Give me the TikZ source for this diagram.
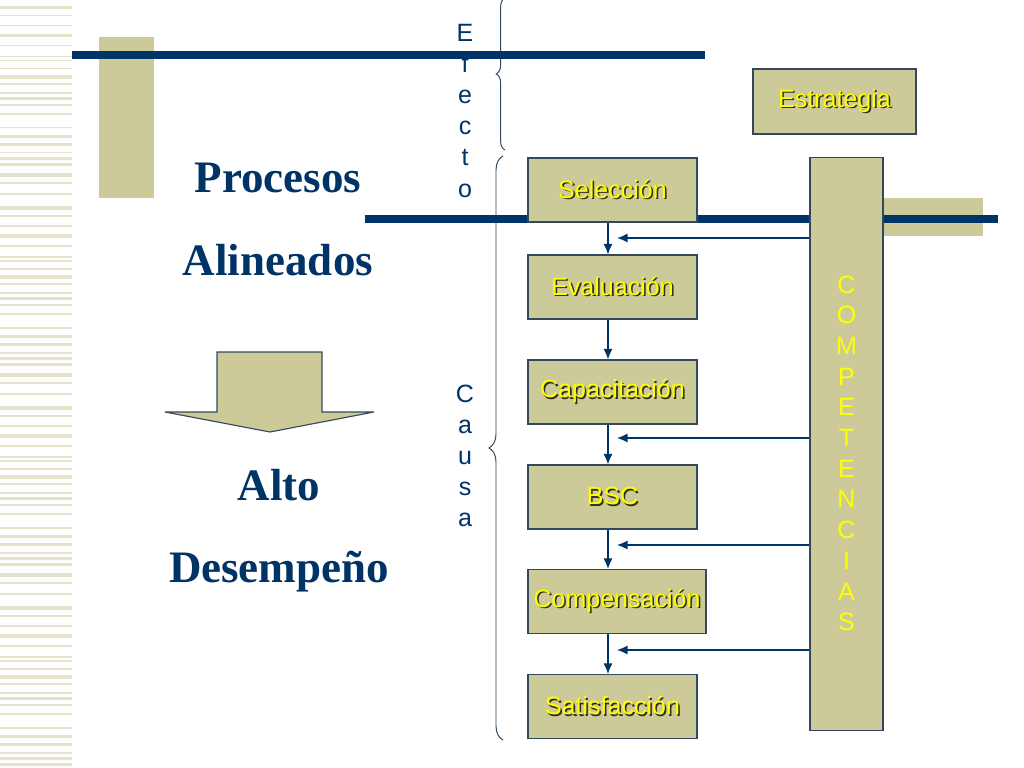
\documentclass[tikz,border=0pt]{standalone}
\usepackage{fontspec}
\setmainfont{Liberation Serif}
\setsansfont{Liberation Sans}
\usetikzlibrary{arrows.meta,decorations.pathreplacing}
\definecolor{caqui}{HTML}{CCCA99}
\definecolor{franja}{HTML}{E6E3CB}
\definecolor{marino}{HTML}{003366}
\definecolor{borde}{HTML}{34495E}
\definecolor{amarillo}{HTML}{FFFF00}
\definecolor{sombra}{HTML}{2E2E10}
\newcommand{\sombreado}[1]{\makebox[0pt][l]{\kern1.1pt\raisebox{-1.1pt}{\color{sombra}#1}}{\color{amarillo}#1}}
\begin{document}
\begin{tikzpicture}[x=0.025cm,y=-0.025cm,
  caja/.style={draw=borde,fill=caqui,line width=0.8pt,minimum width=4.225cm,minimum height=1.6cm,inner sep=0pt,font=\sffamily\fontsize{17.8}{20}\selectfont},
  letra/.style={anchor=base,text=marino,inner sep=0pt,font=\sffamily\fontsize{17.8}{20}\selectfont},
  titulo/.style={anchor=base,text=marino,inner sep=0pt,font=\bfseries\fontsize{32}{36}\selectfont},
  flecha/.style={draw=marino,line width=1pt,-{Latex[length=7.5pt,width=6.5pt]}},
  llave/.style={draw=borde,line width=0.7pt,decorate}]
\useasboundingbox (0,0) rectangle (1024,768);
% franjas del margen
\foreach \y in {0,200,400,600}
  \foreach \d/\h in {6/3.5,15/1.5,25/1.5,34/3.5,45/1.5,56/1.5,60/1.5,68/1.5,75/4,83/2,92/2,97/3,104/2,113/2,127/1.5,135/3,143/3,152/1.5,157/3,163/3,173/4,182/2,193/2}
    \fill[franja] (0,{\y+\d}) rectangle (72,{\y+\d+\h});
\fill[caqui] (99,37) rectangle (154,198);
\fill[caqui] (883,198) rectangle (983,236);
% llaves
\draw[llave,decoration={brace,amplitude=0.22cm}] (505,150) -- (505,-2);
\draw[llave,decoration={brace,amplitude=0.35cm}] (503,740) -- (503,156);
\foreach \l [count=\i] in {E,f,e,c,t,o}
  \node[letra] (ef\i) at (465,{42+31*(\i-1)}) {\l};
\foreach \l [count=\i] in {C,a,u,s,a}
  \node[letra] (ca\i) at (465,{402+31.2*(\i-1)}) {\l};
% lineas
\fill[marino] (72,51) rectangle (705,59);
\fill[marino] (365,215) rectangle (998,223);
% cajas
\node[caja] (seleccion) at (612.5,190) {\sombreado{Selección}};
\node[caja] (evaluacion) at (612.5,287) {\sombreado{Evaluación}};
\node[caja] (capacitacion) at (612.5,392) {\sombreado{Capacitación}};
\node[caja] (bsc) at (612.5,497) {\sombreado{BSC}};
\node[caja,minimum width=4.45cm] (compensacion) at (617,601.5) {\sombreado{Compensación}};
\node[caja] (satisfaccion) at (612.5,706.5) {\sombreado{Satisfacción}};
\node[caja,minimum width=4.075cm,minimum height=1.625cm] (estrategia) at (834.5,101.5) {\sombreado{Estrategia}};
\node[caja,minimum width=1.825cm,minimum height=14.3cm] (competencias) at (846.5,444) {};
\foreach \l [count=\i] in {C,O,M,P,E,T,E,N,C,I,A,S}
  \node[letra,text=amarillo] (co\i) at (846.5,{293+30.7*(\i-1)}) {\l};
% flechas
\coordinate (eje) at (608,0);
\draw[flecha] (seleccion.south -| eje) -- (evaluacion.north -| eje);
\draw[flecha] (evaluacion.south -| eje) -- (capacitacion.north -| eje);
\draw[flecha] (capacitacion.south -| eje) -- (bsc.north -| eje);
\draw[flecha] (bsc.south -| eje) -- (compensacion.north -| eje);
\draw[flecha] (compensacion.south -| eje) -- (satisfaccion.north -| eje);
\foreach \y [count=\i] in {238,438,545,650}{
  \coordinate (h\i) at (617,\y);
  \draw[flecha] (competencias.west |- h\i) -- (h\i);
}
% titulos
\node[titulo] (procesos) at (278,192) {Procesos};
\node[titulo] (alineados) at (278,275) {Alineados};
\node[titulo] (alto) at (279,500) {Alto};
\node[titulo] (desempeno) at (279,582) {Desempeño};
\draw[draw=borde,fill=caqui,line width=0.8pt] (217,352) -- (322,352) -- (322,412) -- (374,412)
  -- (270,432) -- (165,412) -- (217,412) -- cycle;
\end{tikzpicture}
\end{document}
